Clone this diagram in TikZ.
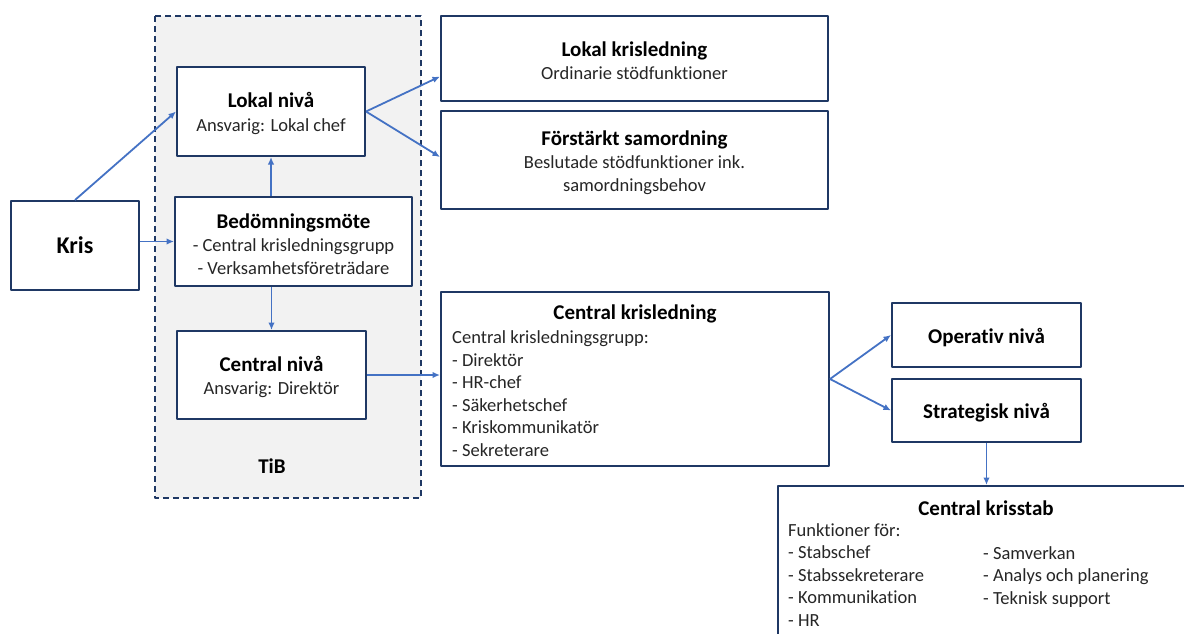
\documentclass[tikz,border=0pt]{standalone}
\usepackage{fontspec}
\setmainfont{Carlito}[Ligatures=NoCommon]
\usetikzlibrary{arrows.meta}
\definecolor{ram}{HTML}{1F3864}
\definecolor{pilfarg}{HTML}{4472C4}
\definecolor{bakgrund}{HTML}{F2F2F2}
\newcommand{\rubrik}[1]{{\fontsize{21}{24}\selectfont\bfseries\color{black}\rule{0pt}{19.5pt}#1}}
\begin{document}
\begin{tikzpicture}[x=1pt,y=-1pt,>={Latex[length=7.5pt,width=6.5pt]}, line join=round, font=\fontsize{18.5}{22.5}\selectfont,
	ruta/.style={draw=ram, line width=2pt, fill=white, inner sep=0pt, align=center, text=black!85},
	pil/.style={->, draw=pilfarg, line width=1.8pt},
	lista/.style={inner sep=0pt, align=left, text=black!85, anchor=north west}]
	\useasboundingbox (0,0) rectangle (1184,633);
	% TiB
	\draw[draw=ram, fill=bakgrund, line width=2pt, dash pattern=on 6pt off 4pt] (155,16) rectangle (421,498);
	\node (tib) at (272,464) {\rubrik{TiB}};
	% rutor
	\node[ruta, minimum width=128pt, minimum height=89pt] (kris) at (75,245.5) {\fontsize{24}{28}\selectfont\bfseries\color{black}Kris};
	\node[ruta, minimum width=188pt, minimum height=89pt] (lokal) at (271,111.5) {\rubrik{Lokal nivå}\\[1pt] Ansvarig: Lokal chef};
	\node[ruta, minimum width=237pt, minimum height=89pt] (bedom) at (293.5,241.5) {\rubrik{Bedömningsmöte}\\[1pt] - Central krisledningsgrupp\\ - Verksamhetsföreträdare};
	\node[ruta, minimum width=189pt, minimum height=88pt] (central) at (271.5,375) {\rubrik{Central nivå}\\[1pt] Ansvarig: Direktör};
	\node[ruta, minimum width=387pt, minimum height=85pt] (lkl) at (634.5,58.5) {\rubrik{Lokal krisledning}\\[1pt] Ordinarie stödfunktioner};
	\node[ruta, minimum width=387pt, minimum height=98pt] (fs) at (634.5,160) {\rubrik{Förstärkt samordning}\\[1pt] Beslutade stödfunktioner ink.\\ samordningsbehov};
	\node[ruta, minimum width=388pt, minimum height=174pt] (ckl) at (635,379) {};
	\node (ckl-rubrik) at (635,312) {\rubrik{Central krisledning}};
	\node[lista] (ckl-lista) at (452,330.5) {Central krisledningsgrupp:\\- Direktör\\- HR-chef\\- Säkerhetschef\\- Kriskommunikatör\\- Sekreterare};
	\node[ruta, minimum width=189pt, minimum height=64pt] (op) at (986.5,335) {\rubrik{Operativ nivå}};
	\node[ruta, minimum width=189pt, minimum height=63pt] (strat) at (986.5,410.5) {\rubrik{Strategisk nivå}};
	\node[ruta, minimum width=422pt, minimum height=174pt] (cks) at (989,573) {};
	\node (cks-rubrik) at (986,506) {\rubrik{Central krisstab}};
	\node[lista] (cks-v) at (788,523) {Funktioner för:\\- Stabschef\\- Stabssekreterare\\- Kommunikation\\- HR};
	\node[lista] (cks-h) at (983,546) {- Samverkan\\- Analys och planering\\- Teknisk support};
	% pilar
	\draw[pil] (kris.north) -- (lokal.west);
	\draw[pil] (kris.east |- bedom.west) -- (bedom.west);
	\draw[pil] (bedom.north -| lokal.south) -- (lokal.south);
	\draw[pil] (bedom.south -| central.north) -- (central.north);
	\draw[pil] (lokal.east) -- ([yshift=-18pt]lkl.west);
	\draw[pil] (lokal.east) -- ([yshift=3pt]fs.west);
	\draw[pil] (central.east) -- (central.east -| ckl.west);
	\draw[pil] (ckl.east) -- (op.west);
	\draw[pil] (ckl.east) -- (strat.west);
	\draw[pil] (strat.south) -- (strat.south |- cks.north);
\end{tikzpicture}
\end{document}
